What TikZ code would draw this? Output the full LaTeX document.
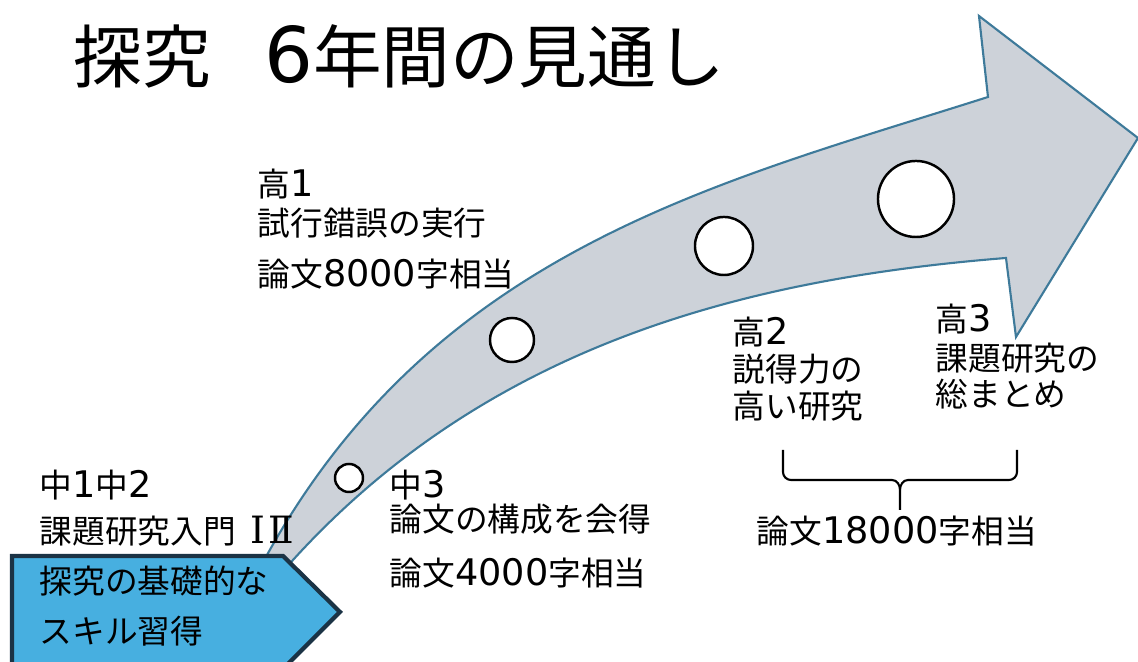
\documentclass[tikz,border=0pt]{standalone}
\usepackage{fontspec}
\setmainfont{Noto Sans CJK JP}
\newfontfamily\digfont[Scale=1.12]{DejaVu Sans}
\newfontfamily\romfont[Scale=1.15]{DejaVu Serif}
\newcommand\dgt[1]{{\digfont #1}}
\definecolor{arrowfill}{RGB}{205,210,217}
\definecolor{arrowline}{RGB}{62,122,154}
\definecolor{pentblue}{RGB}{71,175,224}
\definecolor{pentline}{RGB}{27,51,69}
\begin{document}
\begin{tikzpicture}[x=0.01cm,y=-0.01cm,
  lbl/.style={anchor=west, inner sep=0pt, text height=0.83em, text depth=0.07em, font=\fontsize{9.3pt}{11pt}\selectfont},
  ttl/.style={anchor=west, inner sep=0pt, text height=0.83em, text depth=0.07em, font=\fontsize{19.5pt}{22pt}\selectfont},
  circ/.style={circle, draw=black, fill=white, line width=0.7pt, inner sep=0pt}]
\useasboundingbox (0,0) rectangle (1138,662);
% big curved arrow
\filldraw[fill=arrowfill, draw=arrowline, line width=0.6pt]
  (250,588) -- (267,555) .. controls (437,249) and (718,183) .. (988,97)
  -- (979,16) -- (1138,138) -- (1016,337) -- (1006,258)
  .. controls (756,278) and (493,340) .. (293,560) -- (268,588)
  -- cycle;
% circles
\node[circ, minimum size=0.28cm] (c1) at (349,478) {};
\node[circ, minimum size=0.44cm] (c2) at (512,340) {};
\node[circ, minimum size=0.58cm] (c3) at (724,246) {};
\node[circ, minimum size=0.76cm] (c4) at (916,199) {};
% pentagon
\filldraw[fill=pentblue, draw=pentline, line width=1.2pt]
  (12,556) -- (283,556) -- (340,612) -- (284,668) -- (12,668) -- cycle;
% title
\node[ttl] (title) at (73,69) {探究\hspace{0.78em}\dgt{6}年間の見通し};
% labels
\node[lbl] (k1a) at (257,183) {高\dgt{1}};
\node[lbl] (k1b) at (257,222) {試行錯誤の実行};
\node[lbl] (k1c) at (257,273) {論文\dgt{8000}字相当};
\node[lbl] (j12a) at (39,484) {中\dgt{1}中\dgt{2}};
\node[lbl] (j12b) at (39,530) {課題研究入門\hspace{0.45em}{\romfont Ⅰ}\hspace{0.08em}{\romfont Ⅱ}};
\node[lbl] (p1) at (39,580) {探究の基礎的な};
\node[lbl] (p2) at (39,630) {スキル習得};
\node[lbl] (j3a) at (389,484) {中\dgt{3}};
\node[lbl] (j3b) at (389,518) {論文の構成を会得};
\node[lbl] (j3c) at (389,572) {論文\dgt{4000}字相当};
\node[lbl] (k2a) at (732,331) {高\dgt{2}};
\node[lbl] (k2b) at (732,368) {説得力の};
\node[lbl] (k2c) at (732,405) {高い研究};
\node[lbl] (k3a) at (935,318) {高\dgt{3}};
\node[lbl] (k3b) at (935,357) {課題研究の};
\node[lbl] (k3c) at (935,393) {総まとめ};
\node[lbl, anchor=center] (k23) at (897,530) {論文\dgt{18000}字相当};
% brace
\draw[line width=0.6pt, line join=round]
  (783,450) -- (783,472) to[out=-90,in=180] (791,480) -- (892,480) to[out=0,in=90] (900,490) -- (900,510);
\draw[line width=0.6pt, line join=round]
  (1017,450) -- (1017,472) to[out=-90,in=0] (1009,480) -- (908,480) to[out=180,in=90] (900,490);
\end{tikzpicture}
\end{document}
